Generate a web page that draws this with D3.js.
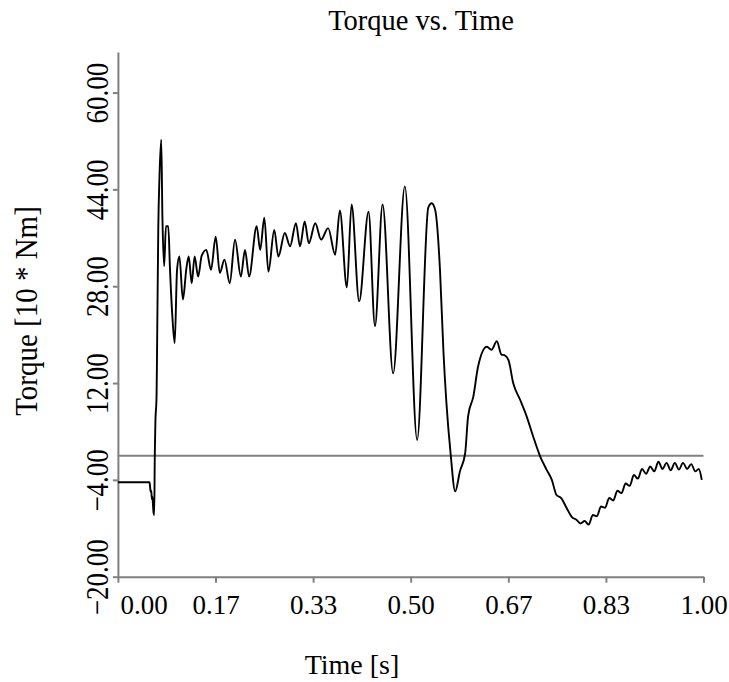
<!DOCTYPE html>
<html><head><meta charset="utf-8">
<script src="https://cdn.jsdelivr.net/npm/d3@7"></script>
<style>
body{margin:0;background:#fff;}
svg{display:block;}
text{font-family:"Liberation Serif","Times New Roman",serif;fill:#000;}
</style>
</head><body><svg id="c" width="729" height="682"></svg>
<script>
const title = "Torque vs. Time";
const xLabel = "Time [s]";
const yLabel = "Torque [10 * Nm]";
const xTicks = [0, 1/6, 2/6, 3/6, 4/6, 5/6, 1];
const yTicks = [-20, -4, 12, 28, 44, 60];
const xDomain = [0, 1];
const yDomain = [-20, 66.7];

const time = [0.000,0.015,0.030,0.045,0.054,0.055,0.056,0.057,0.058,0.059,0.060,0.061,0.062,0.063,0.064,0.066,0.067,0.069,0.071,0.074,
0.076,0.079,0.082,0.086,0.089,0.093,0.097,0.101,0.105,0.111,0.117,0.121,0.126,0.131,0.137,0.143,0.151,0.159,0.167,0.174,
0.182,0.191,0.200,0.210,0.217,0.224,0.237,0.243,0.250,0.257,0.267,0.274,0.285,0.294,0.304,0.311,0.319,0.326,0.337,0.347,
0.359,0.371,0.379,0.391,0.399,0.412,0.428,0.439,0.452,0.470,0.490,0.511,0.530,0.536,0.542,0.550,0.556,0.561,0.568,0.576,
0.584,0.593,0.598,0.607,0.615,0.630,0.638,0.647,0.655,0.660,0.667,0.675,0.687,0.698,0.709,0.721,0.732,0.741,0.749,0.757,
0.766,0.775,0.783,0.790,0.797,0.804,0.811,0.818,0.825,0.832,0.839,0.846,0.853,0.860,0.867,0.874,0.881,0.888,0.895,0.902,
0.909,0.916,0.923,0.930,0.937,0.944,0.951,0.958,0.965,0.972,0.979,0.986,0.992,0.997];
const torque = [-4.4,-4.4,-4.4,-4.4,-4.4,-5.2,-6.0,-5.8,-7.2,-6.8,-8.3,-9.5,-9.8,0.1,5.4,9.8,18.6,37.9,46.1,52.2,
39.5,31.3,37.9,37.9,30.7,23.0,18.6,30.7,32.9,25.8,31.0,32.9,28.5,32.9,29.6,33.0,34.0,30.7,36.2,30.2,
32.4,28.5,35.7,29.6,34.0,29.6,37.9,34.0,39.3,30.4,37.3,32.9,36.8,34.6,38.4,34.6,38.7,35.1,38.4,35.7,
37.6,33.2,40.5,27.8,41.5,25.5,40.3,21.4,41.5,13.6,44.5,2.6,41.0,41.7,40.5,30.7,17.0,8.7,0.5,-5.9,
-2.6,0.4,6.5,9.8,14.7,18.0,17.5,18.9,16.7,16.6,15.8,12.0,9.2,6.5,3.2,-0.1,-2.3,-4.0,-6.5,-7.0,
-8.6,-10.1,-10.6,-11.2,-10.8,-11.4,-9.8,-10.0,-8.4,-8.6,-7.0,-7.4,-5.8,-6.2,-4.6,-5.0,-3.2,-3.8,-2.2,-3.0,
-1.8,-2.6,-1.0,-2.2,-1.2,-2.4,-1.2,-2.3,-1.2,-2.2,-1.4,-2.6,-2.2,-4.0];

const svg = d3.select("#c");
const L = 117.9, R = 703.5, T = 52, B = 576.7;
const x = d3.scaleLinear().domain(xDomain).range([L, R]);
const y = d3.scaleLinear().domain(yDomain).range([B, T]);
const axisColor = "#808080";
const fmt = d3.format(".2f");

// y axis
const ya = svg.append("g").attr("transform", `translate(${L},0)`)
  .call(d3.axisLeft(y).tickValues(yTicks).tickSize(5).tickSizeOuter(0).tickFormat(fmt));
ya.select(".domain").attr("stroke", axisColor).attr("stroke-width", 2);
ya.selectAll(".tick line").attr("stroke", axisColor).attr("stroke-width", 2);
ya.selectAll(".tick text")
  .attr("x", null).attr("dy", null).attr("text-anchor", "middle")
  .attr("transform", "translate(-10,0) scale(1.2,1) rotate(-90)")
  .style("font-size", "27px").style("font-family", '"Liberation Serif",serif');

// x axis
const xa = svg.append("g").attr("transform", `translate(0,${B})`)
  .call(d3.axisBottom(x).tickValues(xTicks).tickSize(6).tickSizeOuter(0).tickFormat(fmt));
xa.select(".domain").attr("stroke", axisColor).attr("stroke-width", 2);
xa.selectAll(".tick line").attr("stroke", axisColor).attr("stroke-width", 2);
xa.selectAll(".tick text")
  .attr("y", 37).attr("dy", null)
  .style("font-size", "27px").style("font-family", '"Liberation Serif",serif');
xa.selectAll(".tick text").filter((d, i) => i === 0)
  .attr("text-anchor", "start").attr("x", 2);

// zero line
svg.append("line")
  .attr("x1", x(xDomain[0])).attr("x2", x(xDomain[1]))
  .attr("y1", y(0)).attr("y2", y(0))
  .attr("stroke", axisColor).attr("stroke-width", 2);

// data line
const pts = time.map((t, i) => [t, torque[i]]);
svg.append("path")
  .datum(pts)
  .attr("fill", "none")
  .attr("stroke", "#000")
  .attr("stroke-width", 1.9)
  .attr("stroke-linejoin", "round")
  .attr("d", d3.line().x(d => x(d[0])).y(d => y(d[1])).curve(d3.curveMonotoneX));

// title
svg.append("text").attr("x", 421).attr("y", 30).attr("text-anchor", "middle")
  .style("font-size", "28.5px").text(title);
// x label
svg.append("text").attr("x", 352).attr("y", 674).attr("text-anchor", "middle")
  .style("font-size", "28px").text(xLabel);
// y label
svg.append("text").attr("text-anchor", "middle")
  .attr("transform", "translate(37,311) scale(1.12,1) rotate(-90)")
  .style("font-size", "29px").text(yLabel);
</script>
</body></html>
